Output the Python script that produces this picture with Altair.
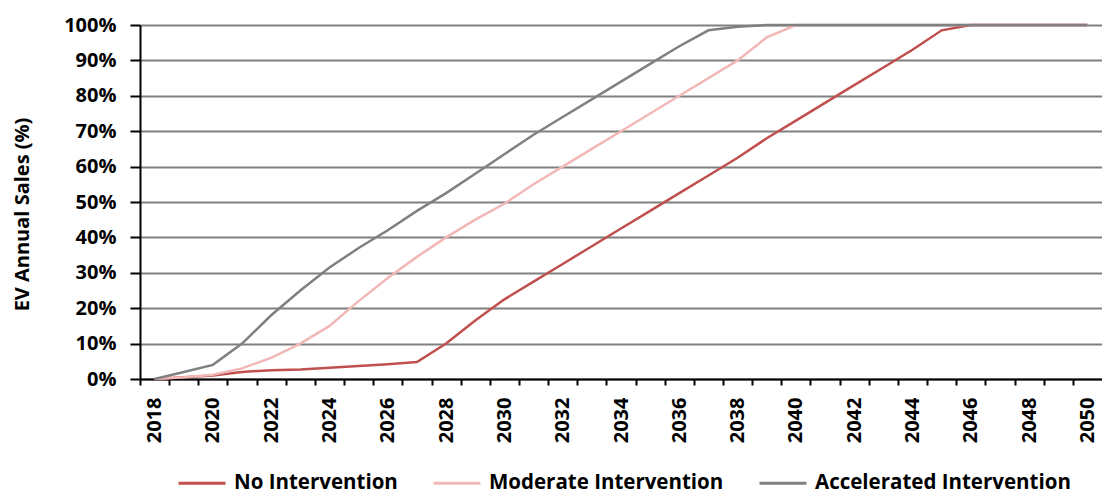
import altair as alt
import pandas as pd

years = list(range(2018, 2051))

no_intervention = [0, 0.5, 1, 2, 2.5, 2.7, 3.2, 3.7, 4.2, 4.8, 10, 16.5, 22.5, 27.5, 32.5,
                   37.5, 42.5, 47.5, 52.5, 57.5, 62.5, 68, 73, 78, 83, 88, 93, 98.5,
                   100, 100, 100, 100, 100]
moderate = [0, 0.5, 1.2, 3, 6, 10, 15, 22, 28.5, 34.5, 40, 45, 49.5, 55, 60, 65, 70, 75,
            80, 85, 90, 96.5, 100, 100, 100, 100, 100, 100, 100, 100, 100, 100, 100]
accelerated = [0, 2, 4, 10, 18, 25, 31.5, 37, 42, 47.5, 52.5, 58, 63.5, 69, 74, 79, 84,
               89, 94, 98.5, 99.5, 100, 100, 100, 100, 100, 100, 100, 100, 100, 100, 100, 100]

series_names = ["No Intervention", "Moderate Intervention", "Accelerated Intervention"]
series_colors = ["#c0504d", "#f2b8b8", "#808080"]
y_ticks = [i / 10 for i in range(11)]

rows = []
for name, vals in zip(series_names, [no_intervention, moderate, accelerated]):
    for yr, v in zip(years, vals):
        rows.append({"year": yr, "value": v / 100, "series": name})
df = pd.DataFrame(rows)

W = 962
H = 354
bw = W / len(years)
FONT = "Open Sans"

chart = alt.Chart(df).mark_line(strokeWidth=2.5).encode(
    x=alt.X("year:Q",
            scale=alt.Scale(domain=[years[0] - 0.5, years[-1] + 0.5], nice=False, zero=False),
            axis=alt.Axis(values=years,
                          labelExpr="datum.value % 2 == 0 ? datum.label : ''",
                          format="d", tickOffset=-bw / 2, labelOffset=bw / 2,
                          labelAngle=270, tickSize=6, tickWidth=2, tickColor="black",
                          domainColor="black", domainWidth=2, grid=False, title=None,
                          labelFont=FONT, labelFontSize=20, labelFontWeight="bold",
                          labelColor="black", labelPadding=12, labelOverlap=False,
                          labelFlush=False, labelBound=False)),
    y=alt.Y("value:Q",
            scale=alt.Scale(domain=[0, 1], nice=False),
            axis=alt.Axis(values=y_ticks, format=".0%", tickSize=10, tickWidth=2,
                          tickColor="black", domainColor="black", domainWidth=2,
                          gridColor="#808080", gridWidth=2,
                          labelFont=FONT, labelFontSize=20, labelFontWeight="bold",
                          labelColor="black", labelPadding=14,
                          title="EV Annual Sales (%)", titleFont=FONT, titleFontSize=20,
                          titleFontWeight="bold", titleColor="black",
                          titleX=-118, titleY=189, titleAngle=270,
                          titleBaseline="middle", titleAlign="center")),
    color=alt.Color("series:N",
                    scale=alt.Scale(domain=series_names, range=series_colors),
                    legend=alt.Legend(orient="none", legendX=37, legendY=433,
                                      direction="horizontal", title=None,
                                      symbolType="stroke", symbolSize=2209,
                                      symbolStrokeWidth=3,
                                      labelFont=FONT, labelFontSize=20.5,
                                      labelFontWeight="bold", labelColor="black",
                                      labelOffset=7, columnPadding=29, labelLimit=400)),
    order=alt.Order("series:N"),
).properties(
    width=W, height=H,
    autosize=alt.AutoSizeParams(type="none"),
    padding={"left": 132, "top": 17, "right": 0, "bottom": 117},
).configure_view(stroke=None)

chart.save("out.html", embed_options={"renderer": "svg", "actions": False})
